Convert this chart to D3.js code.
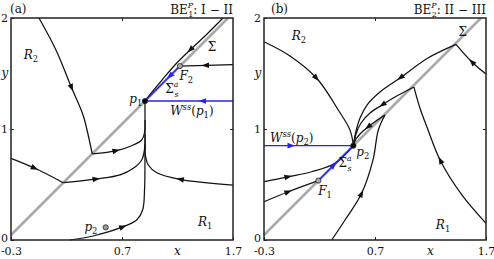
<!DOCTYPE html>
<html><head><meta charset="utf-8">
<script src="https://cdn.jsdelivr.net/npm/d3@7"></script>
<style>
body{margin:0;background:#fff}
svg text{fill:#111}
</style>
</head><body>
<svg id="chart" width="494" height="259"></svg>
<script>
const xTicks = [-0.3, 0.7, 1.7];
const yTicks = [0, 1, 2];
const sigmaLine = [[-0.3, 0.045], [1.655, 2.0]];

// panel (a): BE1 I-II
const a_top = [[-0.048,2.0],[0.105,1.712],[0.247,1.369],[0.349,1.126],[0.385,0.991],[0.432,0.775]];
const a_topOut = [[0.432,0.775],[0.652,0.805],[0.802,0.856],[0.877,0.901],[0.904,0.973],[0.907,1.08]];
const a_left = [[-0.3,0.736],[-0.084,0.646],[0.171,0.516]];
const a_leftOut = [[0.171,0.516],[0.472,0.550],[0.682,0.586],[0.802,0.646],[0.877,0.721],[0.905,0.83],[0.907,0.95]];
const a_bottom = [[0.232,0],[0.439,0.036],[0.712,0.12],[0.832,0.18],[0.886,0.27],[0.903,0.45],[0.907,0.8],[0.907,1.252]];
const a_right = [[1.7,0.495],[1.222,0.547],[1.013,0.606],[0.937,0.676],[0.913,0.750],[0.907,0.86]];
const a_sigma = [[1.61,2.0],[1.457,1.847],[1.313,1.712],[1.177,1.577],[1.06,1.441],[0.97,1.333],[0.907,1.252]];
const a_toF2 = [[1.7,1.58],[1.222,1.567]];
const a_wss = [[1.7,1.252],[0.907,1.252]];
const a_slow = [[1.222,1.567],[0.907,1.252]];
const a_p1 = [0.907,1.252], a_F2 = [1.222,1.567], a_p2 = [0.553,0.114];

// panel (b): BE2 II-III
const b_top = [[-0.3,1.786],[-0.066,1.658],[0.175,1.457],[0.369,1.171],[0.475,0.99],[0.505,0.85]];
const b_k1In = [[1.7,1.495],[1.571,1.606],[1.43,1.763]];
const b_k1Out = [[1.43,1.763],[1.177,1.64],[0.925,1.459],[0.745,1.333],[0.628,1.216],[0.565,1.099],[0.529,0.982],[0.505,0.85]];
const b_k2In = [[1.7,0.15],[1.481,0.408],[1.286,0.721],[1.178,0.991],[1.105,1.189],[1.051,1.378]];
const b_k2Out = [[1.051,1.378],[0.88,1.288],[0.763,1.216],[0.655,1.144],[0.574,1.054],[0.529,0.955],[0.505,0.85]];
const b_k3In = [[0.31,0],[0.43,0.18],[0.58,0.421],[0.682,0.721],[0.73,0.991],[0.79,1.126]];
const b_k3Out = [[0.79,1.126],[0.709,1.072],[0.637,1.018],[0.574,0.964],[0.529,0.91],[0.505,0.85]];
const b_left1 = [[-0.3,0.525],[-0.081,0.57],[0.13,0.615],[0.34,0.691],[0.505,0.85]];
const b_left2 = [[-0.3,0.345],[-0.081,0.435],[0.19,0.535]];
const b_wss = [[-0.3,0.85],[0.505,0.85]];
const b_slow = [[0.19,0.535],[0.505,0.85]];
const b_p2 = [0.505,0.85], b_F1 = [0.19,0.535];

const BLACK = '#111', BLUE = '#2424f0';
const FONT = '"DejaVu Serif", serif';

const panels = [
  {ox: 11, oy: 18, tag: '(a)', tagX: -1, sub: '1', rest: ': I \u2212 II',
   curves: [
     {pts: a_top, arrows: [[0.247,1.369]]},
     {pts: a_topOut, arrows: [[0.652,0.805]]},
     {pts: a_left, arrows: [[-0.084,0.646]]},
     {pts: a_leftOut, arrows: [[0.472,0.55]]},
     {pts: a_bottom, arrows: [[0.712,0.12]]},
     {pts: a_right, arrows: [[1.222,0.547]]},
     {pts: a_sigma, arrows: [[1.313,1.712]]},
     {pts: a_toF2, arrows: [[1.45,1.574]]},
     {pts: a_wss, arrows: [[1.42,1.252]], color: BLUE},
     {pts: a_slow, arrows: [[1.13,1.475]], color: BLUE}
   ],
   dots: [{p: a_p1, fill: '#000'}, {p: a_F2, fill: '#aaa'}, {p: a_p2, fill: '#999'}],
   labels: [
     {at: [-0.12,1.667], parts: [['R','i'],['2','sub']]},
     {at: [1.51,1.74], parts: [['\u03a3','']]},
     {at: [1.28,1.48], parts: [['F','i'],['2','sub']]},
     {at: [1.15,1.36], parts: [['\u03a3',''],['a','sup'],['s','subx']]},
     {at: [0.825,1.27], parts: [['p','i'],['1','sub']]},
     {at: [1.33,1.16], parts: [['W','i'],['ss','supi'],['(',''],['p','i'],['1','sub'],[')','']]},
     {at: [0.42,0.117], parts: [['p','i'],['2','sub']]},
     {at: [1.45,0.16], parts: [['R','i'],['1','sub']]}
   ]},
  {ox: 264, oy: 18, tag: '(b)', tagX: 7, sub: '2', rest: ': II \u2212 III',
   curves: [
     {pts: b_top, arrows: [[0.175,1.457]]},
     {pts: b_k1In, arrows: [[1.571,1.606]]},
     {pts: b_k1Out, arrows: [[0.925,1.459]]},
     {pts: b_k2In, arrows: [[1.286,0.721]]},
     {pts: b_k2Out, arrows: [[0.763,1.216]]},
     {pts: b_k3In, arrows: [[0.58,0.421]]},
     {pts: b_k3Out, arrows: [[0.637,1.018]]},
     {pts: b_left1, arrows: [[-0.081,0.57]]},
     {pts: b_left2, arrows: [[-0.081,0.435]]},
     {pts: b_wss, arrows: [[-0.05,0.85]], color: BLUE},
     {pts: b_slow, arrows: [[0.33,0.675]], color: BLUE}
   ],
   dots: [{p: b_p2, fill: '#000'}, {p: b_F1, fill: '#aaa'}],
   labels: [
     {at: [0.015,1.838], parts: [['R','i'],['2','sub']]},
     {at: [1.49,1.874], parts: [['\u03a3','']]},
     {at: [-0.05,0.92], parts: [['W','i'],['ss','supi'],['(',''],['p','i'],['2','sub'],[')','']]},
     {at: [0.59,0.79], parts: [['p','i'],['2','sub']]},
     {at: [0.43,0.69], parts: [['\u03a3',''],['a','sup'],['s','subx']]},
     {at: [0.25,0.44], parts: [['F','i'],['1','sub']]},
     {at: [1.313,0.135], parts: [['R','i'],['1','sub']]}
   ]}
];

const W = 222, H = 222;
const svg = d3.select('#chart').attr('font-family', FONT);

function mathText(g, x, y, parts, size) {
  const t = g.append('text').attr('x', x).attr('y', y).attr('font-size', size)
    .attr('font-family', FONT).attr('text-anchor', 'middle');
  let shift = 0;
  parts.forEach(([s, k]) => {
    const sp = t.append('tspan').text(s);
    if (k === 'i') sp.attr('font-style', 'italic');
    let dy = 0;
    if (k === 'sub') { sp.attr('font-size', size*0.7); dy = 3; }
    if (k === 'supi') { sp.attr('font-size', size*0.7).attr('font-style','italic'); dy = -5; }
    if (k === 'sup') { sp.attr('font-size', size*0.65).attr('font-style','italic'); dy = -6; }
    if (k === 'subx') { sp.attr('font-size', size*0.65).attr('font-style','italic').attr('dx', -4); dy = 4; }
    sp.attr('dy', dy - shift);
    shift = dy;
  });
  return t;
}

panels.forEach(P => {
  const x = d3.scaleLinear().domain([-0.3, 1.7]).range([0, W]);
  const y = d3.scaleLinear().domain([0, 2]).range([H, 0]);
  const g = svg.append('g').attr('transform', `translate(${P.ox},${P.oy})`);
  const line = d3.line().x(d => x(d[0])).y(d => y(d[1])).curve(d3.curveCatmullRom.alpha(0.5));

  g.append('path').datum(sigmaLine).attr('d', line)
    .attr('fill', 'none').attr('stroke', '#aaa').attr('stroke-width', 2.6);

  P.curves.forEach(c => {
    const col = c.color || BLACK;
    const p = g.append('path').datum(c.pts).attr('d', line)
      .attr('fill', 'none').attr('stroke', col).attr('stroke-width', c.color ? 1.4 : 1.25);
    const node = p.node(), L = node.getTotalLength();
    c.arrows.forEach(a => {
      const ax = x(a[0]), ay = y(a[1]);
      let best = 0, bd = Infinity;
      for (let l = 0; l <= L; l += 0.5) {
        const q = node.getPointAtLength(l);
        const d = (q.x-ax)**2 + (q.y-ay)**2;
        if (d < bd) { bd = d; best = l; }
      }
      const q0 = node.getPointAtLength(Math.max(0, best-2));
      const q1 = node.getPointAtLength(Math.min(L, best+2));
      const ang = Math.atan2(q1.y-q0.y, q1.x-q0.x) * 180 / Math.PI;
      const tip = node.getPointAtLength(Math.min(L, best+3.5));
      g.append('path').attr('d', 'M0,0L-7.5,-2.8L-7.5,2.8Z')
        .attr('fill', col)
        .attr('transform', `translate(${tip.x},${tip.y}) rotate(${ang})`);
    });
  });

  P.dots.forEach(d => {
    g.append('circle').attr('cx', x(d.p[0])).attr('cy', y(d.p[1])).attr('r', 2.6)
      .attr('fill', d.fill).attr('stroke', '#222').attr('stroke-width', 0.8);
  });

  // axes
  const xa = g.append('g').attr('transform', `translate(0,${H})`)
    .call(d3.axisBottom(x).tickValues(xTicks).tickFormat(d => String(d)).tickSizeInner(-3).tickSizeOuter(0).tickPadding(7));
  const xt = g.append('g')
    .call(d3.axisTop(x).tickValues([0.7]).tickFormat('').tickSizeInner(-3).tickSizeOuter(0));
  const ya = g.append('g')
    .call(d3.axisLeft(y).tickValues(yTicks).tickFormat(d => String(d)).tickSizeInner(-3).tickSizeOuter(0).tickPadding(3));
  const yr = g.append('g').attr('transform', `translate(${W},0)`)
    .call(d3.axisRight(y).tickValues([1]).tickFormat('').tickSizeInner(-3).tickSizeOuter(0));
  [xa, xt, ya, yr].forEach(a => {
    a.attr('font-family', FONT);
    a.select('.domain').remove();
    a.selectAll('line').attr('stroke', '#222');
    a.selectAll('text').attr('font-size', 11).attr('fill', '#111');
  });
  ya.selectAll('text').filter(d => d === 0).attr('dy', '0.1em');
  g.append('rect').attr('width', W).attr('height', H)
    .attr('fill', 'none').attr('stroke', '#222').attr('stroke-width', 1.5);

  g.append('text').attr('x', x(1.2)).attr('y', H + 15).attr('font-size', 12)
    .attr('font-style', 'italic').attr('text-anchor', 'middle').text('x');
  g.append('text').attr('x', -6).attr('y', y(1.5) + 3).attr('font-size', 12)
    .attr('font-style', 'italic').attr('text-anchor', 'middle').text('y');

  // titles
  g.append('text').attr('x', P.tagX).attr('y', -5).attr('font-size', 12).text(P.tag);
  const tt = g.append('text').attr('x', W).attr('y', -4).attr('font-size', 12).attr('text-anchor', 'end');
  tt.append('tspan').text('BE');
  tt.append('tspan').attr('font-size', 8).attr('font-style', 'italic').attr('dy', -6).text('P');
  tt.append('tspan').attr('font-size', 8).attr('dx', -5).attr('dy', 9).text(P.sub);
  tt.append('tspan').attr('dy', -3).text(P.rest);

  P.labels.forEach(l => mathText(g, x(l.at[0]), y(l.at[1]) + 4, l.parts, 12));
});
</script>
</body></html>
